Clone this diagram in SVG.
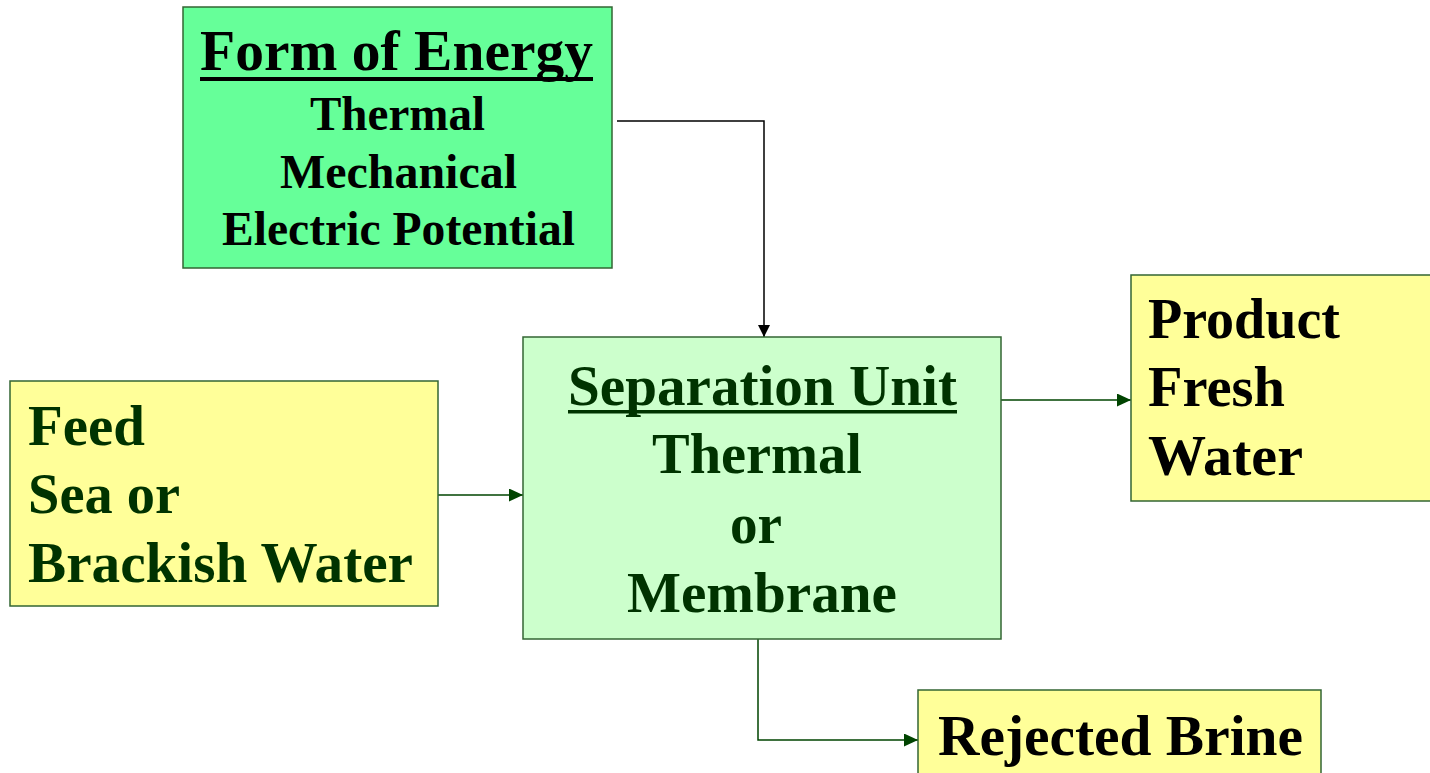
<svg xmlns="http://www.w3.org/2000/svg" width="1430" height="773" viewBox="0 0 1430 773">
<style>
.box{stroke:#336633;stroke-width:1.5}
.t{font-family:"Liberation Serif","Times New Roman",serif;font-weight:bold}
.blk{fill:#000}
.grn{fill:#003300}
.conn{fill:none;stroke-width:1.5}
</style>
<defs>
<marker id="ahB" markerWidth="12" markerHeight="12" refX="12" refY="6" orient="auto" markerUnits="userSpaceOnUse"><path d="M0,0 L12,6 L0,12 z" fill="#000"/></marker>
<marker id="ahG" markerWidth="14" markerHeight="13" refX="14" refY="6.5" orient="auto" markerUnits="userSpaceOnUse"><path d="M0,0 L14,6.5 L0,13 z" fill="#004400"/></marker>
</defs>
<rect width="1430" height="773" fill="#fff"/>
<g id="connectors">
<path class="conn" d="M617,121 H764 V337" stroke="#000" marker-end="url(#ahB)"/>
<path class="conn" d="M438,495 H523" stroke="#004400" marker-end="url(#ahG)"/>
<path class="conn" d="M1001,400 H1131" stroke="#004400" marker-end="url(#ahG)"/>
<path class="conn" d="M758,639 V740 H918" stroke="#004400" marker-end="url(#ahG)"/>
</g>
<g id="energy">
<rect class="box" x="183" y="7" width="429" height="261" fill="#66FF99"/>
<text class="t blk" x="200" y="70" font-size="57" textLength="393" lengthAdjust="spacingAndGlyphs">Form of Energy</text>
<rect x="200" y="77" width="393" height="4" fill="#000"/>
<text class="t blk" x="310" y="130" font-size="48" textLength="175" lengthAdjust="spacingAndGlyphs">Thermal</text>
<text class="t blk" x="280" y="188" font-size="48" textLength="237" lengthAdjust="spacingAndGlyphs">Mechanical</text>
<text class="t blk" x="222" y="245" font-size="48" textLength="353" lengthAdjust="spacingAndGlyphs">Electric Potential</text>
</g>
<g id="separation">
<rect class="box" x="523" y="337" width="478" height="302" fill="#CCFFCC"/>
<text class="t grn" x="568" y="405" font-size="57" textLength="389" lengthAdjust="spacingAndGlyphs">Separation Unit</text>
<rect x="568" y="410" width="389" height="3.5" fill="#003300"/>
<text class="t grn" x="652" y="473" font-size="56" textLength="210" lengthAdjust="spacingAndGlyphs">Thermal</text>
<text class="t grn" x="730" y="543" font-size="56" textLength="52" lengthAdjust="spacingAndGlyphs">or</text>
<text class="t grn" x="627" y="612" font-size="56" textLength="270" lengthAdjust="spacingAndGlyphs">Membrane</text>
</g>
<g id="feed">
<rect class="box" x="10" y="381" width="428" height="225" fill="#FFFF99"/>
<text class="t grn" x="28" y="445" font-size="56" textLength="117" lengthAdjust="spacingAndGlyphs">Feed</text>
<text class="t grn" x="28" y="513" font-size="56" textLength="152" lengthAdjust="spacingAndGlyphs">Sea or</text>
<text class="t grn" x="28" y="582" font-size="56" textLength="385" lengthAdjust="spacingAndGlyphs">Brackish Water</text>
</g>
<g id="product">
<rect class="box" x="1131" y="275" width="305" height="226" fill="#FFFF99"/>
<text class="t blk" x="1148" y="338" font-size="56" textLength="192" lengthAdjust="spacingAndGlyphs">Product</text>
<text class="t blk" x="1148" y="406" font-size="56" textLength="137" lengthAdjust="spacingAndGlyphs">Fresh</text>
<text class="t blk" x="1148" y="475" font-size="56" textLength="155" lengthAdjust="spacingAndGlyphs">Water</text>
</g>
<g id="brine">
<rect class="box" x="918" y="690" width="403" height="100" fill="#FFFF99"/>
<text class="t blk" x="938" y="755" font-size="56" textLength="365" lengthAdjust="spacingAndGlyphs">Rejected Brine</text>
</g>
</svg>
